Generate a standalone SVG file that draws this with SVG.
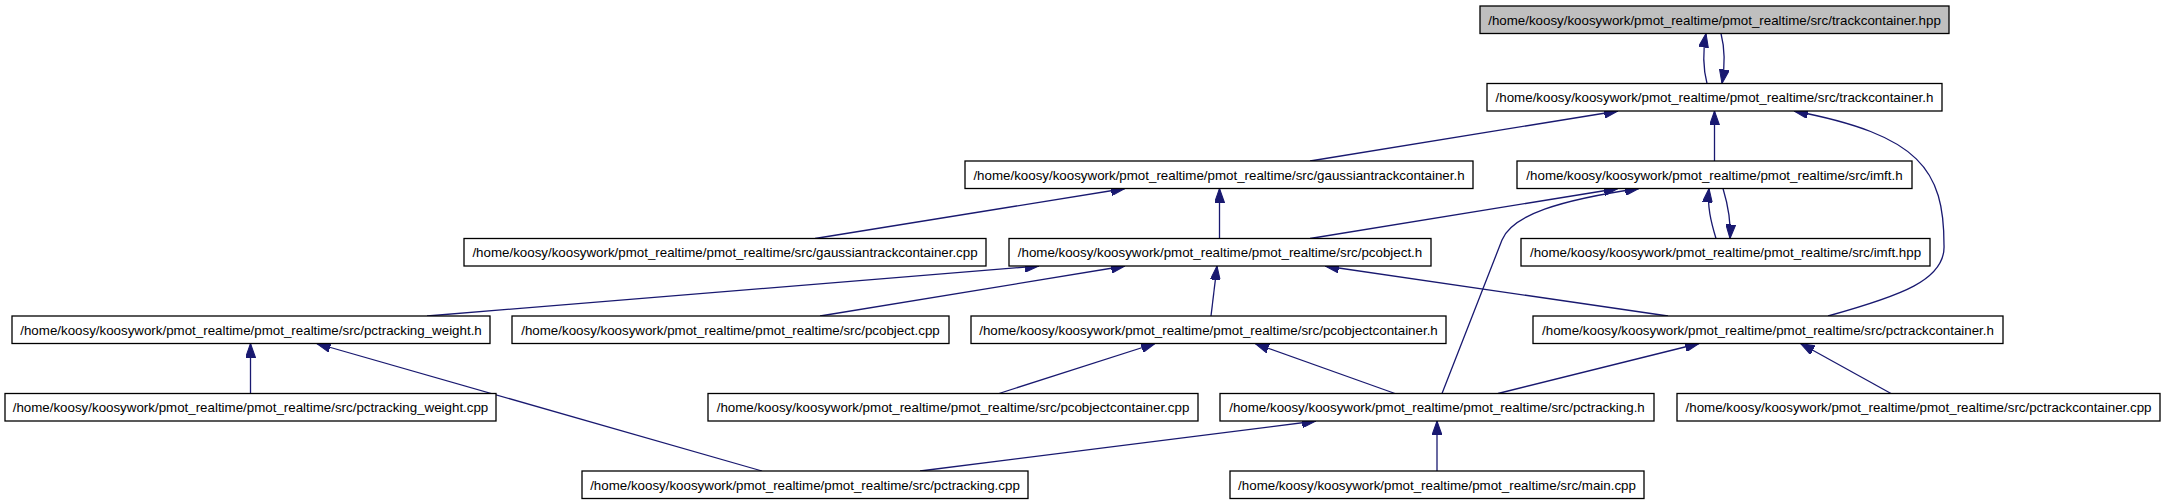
<svg xmlns="http://www.w3.org/2000/svg" width="2165" height="504" viewBox="0 0 2165 504">
<style>
.n rect{fill:#ffffff;stroke:#000000;stroke-width:1.3}
.n.root rect{fill:#bfbfbf}
.n text{font-family:"Liberation Sans",Arial,sans-serif;font-size:13.33px;fill:#000000;text-anchor:middle}
.e path{fill:none;stroke:#191970;stroke-width:1.3;marker-end:url(#ah)}
</style>
<defs>
<marker id="ah" markerUnits="userSpaceOnUse" markerWidth="14" markerHeight="10" viewBox="0 0 13.3 9.4" refX="13.3" refY="4.7" orient="auto">
<path d="M0,0 L13.3,4.7 L0,9.4 z" fill="#191970" stroke="#191970" stroke-width="1"/>
</marker>
</defs>
<rect width="2165" height="504" fill="#ffffff"/>
<g id="connectors" class="e">
<path d="M1707,83.5 C1703,68 1703,50 1706,33.5"/>
<path d="M1721,33.5 C1725,49 1725,66 1722,83.5"/>
<path d="M1310,161 L1618,111"/>
<path d="M1714.5,161 L1714.5,111"/>
<path d="M1828,316 C1900,296 1946,280 1944,245 C1944,170 1920,135 1794,111"/>
<path d="M815,238.5 L1125,188.5"/>
<path d="M1219.5,238.5 L1219.5,188.5"/>
<path d="M1310,238.5 L1618,188.5"/>
<path d="M1442,393.5 L1502,240 C1512,215 1560,200 1639,188.5"/>
<path d="M1716,238.5 C1711,222 1707,206 1709,188.5"/>
<path d="M1723,188.5 C1728,205 1731,221 1730,238.5"/>
<path d="M427,316 L1039,266"/>
<path d="M820,316 L1125,266"/>
<path d="M1211,316 L1217,266"/>
<path d="M1668,316 L1325,266"/>
<path d="M250.5,393.5 L250.5,343.5"/>
<path d="M762,471 L316.6,343.5"/>
<path d="M999,393.5 L1155,343.5"/>
<path d="M1395,393.5 L1255,343.5"/>
<path d="M1498,393.5 L1699,343.5"/>
<path d="M1891,393.5 L1800.6,343.5"/>
<path d="M920,471 L1316,421"/>
<path d="M1437,471 L1437,421"/>
</g>
<g id="n1" class="n root"><rect x="1480" y="6" width="469" height="27.5"/><text x="1714.5" y="24.5">/home/koosy/koosywork/pmot_realtime/pmot_realtime/src/trackcontainer.hpp</text></g>
<g id="n2" class="n"><rect x="1487" y="83.5" width="455" height="27.5"/><text x="1714.5" y="102">/home/koosy/koosywork/pmot_realtime/pmot_realtime/src/trackcontainer.h</text></g>
<g id="n3" class="n"><rect x="965" y="161" width="508" height="27.5"/><text x="1219" y="179.5">/home/koosy/koosywork/pmot_realtime/pmot_realtime/src/gaussiantrackcontainer.h</text></g>
<g id="n4" class="n"><rect x="1517" y="161" width="395" height="27.5"/><text x="1714.5" y="179.5">/home/koosy/koosywork/pmot_realtime/pmot_realtime/src/imft.h</text></g>
<g id="n5" class="n"><rect x="464" y="238.5" width="522" height="27.5"/><text x="725" y="257">/home/koosy/koosywork/pmot_realtime/pmot_realtime/src/gaussiantrackcontainer.cpp</text></g>
<g id="n6" class="n"><rect x="1009" y="238.5" width="422" height="27.5"/><text x="1220" y="257">/home/koosy/koosywork/pmot_realtime/pmot_realtime/src/pcobject.h</text></g>
<g id="n7" class="n"><rect x="1521" y="238.5" width="409" height="27.5"/><text x="1725.5" y="257">/home/koosy/koosywork/pmot_realtime/pmot_realtime/src/imft.hpp</text></g>
<g id="n8" class="n"><rect x="12" y="316" width="478" height="27.5"/><text x="251" y="334.5">/home/koosy/koosywork/pmot_realtime/pmot_realtime/src/pctracking_weight.h</text></g>
<g id="n9" class="n"><rect x="512" y="316" width="437" height="27.5"/><text x="730.5" y="334.5">/home/koosy/koosywork/pmot_realtime/pmot_realtime/src/pcobject.cpp</text></g>
<g id="n10" class="n"><rect x="971" y="316" width="475" height="27.5"/><text x="1208.5" y="334.5">/home/koosy/koosywork/pmot_realtime/pmot_realtime/src/pcobjectcontainer.h</text></g>
<g id="n11" class="n"><rect x="1533" y="316" width="470" height="27.5"/><text x="1768" y="334.5">/home/koosy/koosywork/pmot_realtime/pmot_realtime/src/pctrackcontainer.h</text></g>
<g id="n12" class="n"><rect x="5" y="393.5" width="491" height="27.5"/><text x="250.5" y="412">/home/koosy/koosywork/pmot_realtime/pmot_realtime/src/pctracking_weight.cpp</text></g>
<g id="n13" class="n"><rect x="708" y="393.5" width="490" height="27.5"/><text x="953" y="412">/home/koosy/koosywork/pmot_realtime/pmot_realtime/src/pcobjectcontainer.cpp</text></g>
<g id="n14" class="n"><rect x="1220" y="393.5" width="434" height="27.5"/><text x="1437" y="412">/home/koosy/koosywork/pmot_realtime/pmot_realtime/src/pctracking.h</text></g>
<g id="n15" class="n"><rect x="1677" y="393.5" width="483" height="27.5"/><text x="1918.5" y="412">/home/koosy/koosywork/pmot_realtime/pmot_realtime/src/pctrackcontainer.cpp</text></g>
<g id="n16" class="n"><rect x="582" y="471" width="446" height="27.5"/><text x="805" y="489.5">/home/koosy/koosywork/pmot_realtime/pmot_realtime/src/pctracking.cpp</text></g>
<g id="n17" class="n"><rect x="1230" y="471" width="414" height="27.5"/><text x="1437" y="489.5">/home/koosy/koosywork/pmot_realtime/pmot_realtime/src/main.cpp</text></g>
</svg>
